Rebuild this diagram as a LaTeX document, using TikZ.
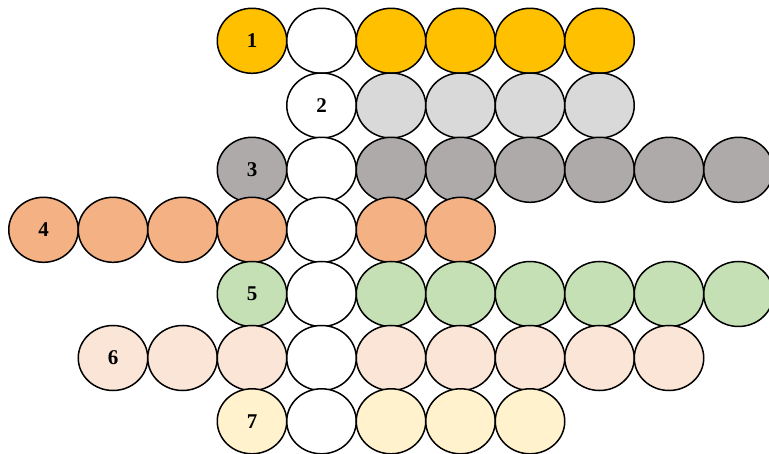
\documentclass[tikz,border=0pt]{standalone}
\usepackage{fontspec}
\setmainfont{Liberation Serif}
\usetikzlibrary{shapes.geometric}

\definecolor{rowgold}{HTML}{FFC000}
\definecolor{rowsilver}{HTML}{D9D9D9}
\definecolor{rowgray}{HTML}{AEAAAA}
\definecolor{rowsalmon}{HTML}{F4B183}
\definecolor{rowgreen}{HTML}{C5E0B4}
\definecolor{rowpeach}{HTML}{FBE5D6}
\definecolor{rowcream}{HTML}{FFF2CC}

\begin{document}
\begin{tikzpicture}[x=1pt, y=-1pt,
  cell/.style={ellipse, draw=black, line width=1.5pt, minimum width=69.5pt,
    minimum height=65pt, inner sep=0pt, font=\bfseries\fontsize{21}{24}\selectfont}]
  % 画布
  \clip (0,0) rectangle (769,454);

  % 第1行（col 3..8）
  \node[cell, fill=rowgold] (r1c3) at (252,40.8) {1};
  \node[cell, fill=white] (r1c4) at (321.5,40.8) {};
  \foreach \c in {5,...,8}
    \node[cell, fill=rowgold] (r1c\c) at (43.5+69.5*\c,40.8) {};

  % 第2行（col 4..8）
  \node[cell, fill=white] (r2c4) at (321.5,105.5) {2};
  \foreach \c in {5,...,8}
    \node[cell, fill=rowsilver] (r2c\c) at (43.5+69.5*\c,105.5) {};

  % 第3行（col 3..10）
  \node[cell, fill=rowgray] (r3c3) at (252,169.8) {3};
  \node[cell, fill=white] (r3c4) at (321.5,169.8) {};
  \foreach \c in {5,...,10}
    \node[cell, fill=rowgray] (r3c\c) at (43.5+69.5*\c,169.8) {};

  % 第4行（col 0..6）
  \node[cell, fill=rowsalmon] (r4c0) at (43.5,229.8) {4};
  \foreach \c in {1,2,3,5,6}
    \node[cell, fill=rowsalmon] (r4c\c) at (43.5+69.5*\c,229.8) {};
  \node[cell, fill=white] (r4c4) at (321.5,229.8) {};

  % 第5行（col 3..10）
  \node[cell, fill=rowgreen] (r5c3) at (252,294) {5};
  \node[cell, fill=white] (r5c4) at (321.5,294) {};
  \foreach \c in {5,...,10}
    \node[cell, fill=rowgreen] (r5c\c) at (43.5+69.5*\c,294) {};

  % 第6行（col 1..9）
  \node[cell, fill=rowpeach] (r6c1) at (113,358) {6};
  \foreach \c in {2,3,5,6,7,8,9}
    \node[cell, fill=rowpeach] (r6c\c) at (43.5+69.5*\c,358) {};
  \node[cell, fill=white] (r6c4) at (321.5,358) {};

  % 第7行（col 3..7）
  \node[cell, fill=rowcream] (r7c3) at (252,421.3) {7};
  \node[cell, fill=white] (r7c4) at (321.5,421.3) {};
  \foreach \c in {5,6,7}
    \node[cell, fill=rowcream] (r7c\c) at (43.5+69.5*\c,421.3) {};
\end{tikzpicture}
\end{document}
